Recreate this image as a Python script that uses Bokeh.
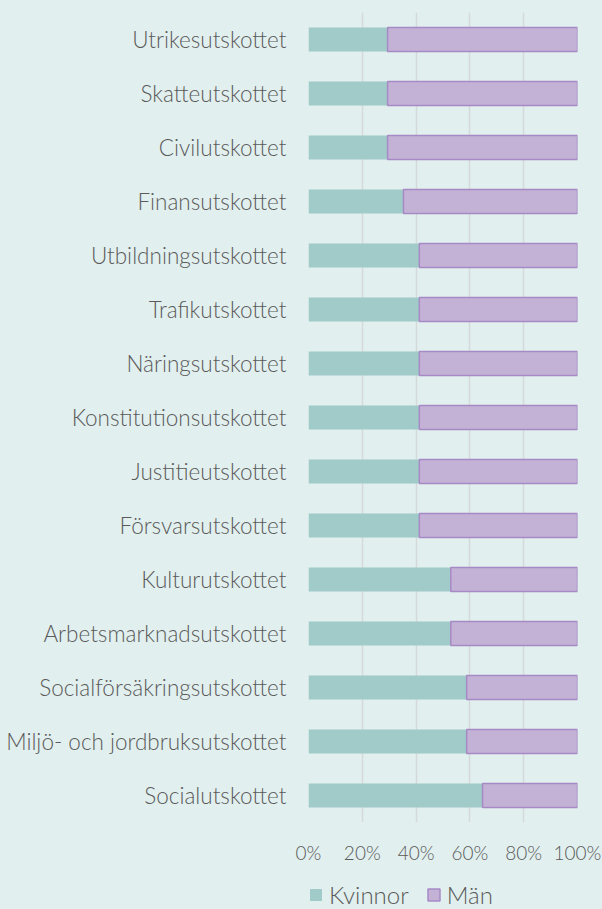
from bokeh.plotting import figure
from bokeh.layouts import column
from bokeh.models import FactorRange, FixedTicker, PrintfTickFormatter, Legend, LegendItem
from bokeh.embed import file_html
from bokeh.resources import INLINE

committees = [
    "Utrikesutskottet", "Skatteutskottet", "Civilutskottet", "Finansutskottet",
    "Utbildningsutskottet", "Trafikutskottet", "Näringsutskottet",
    "Konstitutionsutskottet", "Justitieutskottet", "Försvarsutskottet",
    "Kulturutskottet", "Arbetsmarknadsutskottet", "Socialförsäkringsutskottet",
    "Miljö- och jordbruksutskottet", "Socialutskottet",
]
kvinnor = [29.4, 29.4, 29.4, 35.3, 41.2, 41.2, 41.2, 41.2, 41.2, 41.2, 52.9, 52.9, 58.8, 58.8, 64.7]
man = [70.6, 70.6, 70.6, 64.7, 58.8, 58.8, 58.8, 58.8, 58.8, 58.8, 47.1, 47.1, 41.2, 41.2, 35.3]
x_ticks = [0, 20, 40, 60, 80, 100]
series_names = ["Kvinnor", "Män"]

BG = "#e1efee"
TEAL = "#a0cbc8"
LAV = "#c4b2d6"
LAV_LINE = "#a68ac6"
TXT = "#5a5a5a"
FONT = "Lato Light"

rights = [k + m for k, m in zip(kvinnor, man)]

# ---- main chart ----
p = figure(
    frame_width=269, frame_height=810,
    y_range=FactorRange(factors=list(reversed(committees))),
    x_range=(0, 100),
    output_backend="svg", toolbar_location=None,
    min_border_left=308, min_border_right=25, min_border_top=12, min_border_bottom=45,
    background_fill_color=BG, border_fill_color=BG, outline_line_color=None,
)

p.hbar(y=committees, left=0, right=kvinnor, height=0.44,
       fill_color=TEAL, line_color=None)
p.hbar(y=committees, left=kvinnor, right=rights, height=0.44,
       fill_color=LAV, line_color=LAV_LINE, line_width=1.5)

p.xgrid.ticker = FixedTicker(ticks=x_ticks)
p.xgrid.grid_line_color = "#d6d9d9"
p.xgrid.grid_line_width = 1.5
p.ygrid.grid_line_color = None

p.xaxis.ticker = FixedTicker(ticks=x_ticks)
p.xaxis.formatter = PrintfTickFormatter(format="%d%%")
p.xaxis.axis_line_color = None
p.xaxis.major_tick_line_color = None
p.xaxis.minor_tick_line_color = None
p.xaxis.major_tick_out = 0
p.xaxis.minor_tick_out = 0
p.xaxis.major_label_text_font = FONT
p.xaxis.major_label_text_font_size = "19px"
p.xaxis.major_label_text_color = TXT
p.xaxis.major_label_standoff = 18

p.yaxis.axis_line_color = None
p.yaxis.major_tick_line_color = None
p.yaxis.minor_tick_line_color = None
p.yaxis.major_tick_out = 0
p.yaxis.minor_tick_out = 0
p.yaxis.major_label_text_font = FONT
p.yaxis.major_label_text_font_size = "22.5px"
p.yaxis.major_label_text_color = TXT
p.yaxis.major_label_standoff = 22

# ---- legend strip (legend swatches come from hidden copies of the series) ----
lp = figure(
    width=602, height=42,
    x_range=(0, 100), y_range=FactorRange(factors=list(reversed(committees))),
    x_axis_type=None, y_axis_type=None,
    output_backend="svg", toolbar_location=None,
    min_border_left=190, min_border_right=0, min_border_top=13, min_border_bottom=0,
    background_fill_color=BG, border_fill_color=BG, outline_line_color=None,
)
lk = lp.hbar(y=committees, left=0, right=kvinnor, height=0.44,
             fill_color=TEAL, line_color=None, visible=False)
lm = lp.hbar(y=committees, left=kvinnor, right=rights, height=0.44,
             fill_color=LAV, line_color=LAV_LINE, line_width=1.5, visible=False)

legend = Legend(
    items=[LegendItem(label=series_names[0], renderers=[lk]),
           LegendItem(label=series_names[1], renderers=[lm])],
    orientation="horizontal", location="top_left",
    background_fill_alpha=0, border_line_color=None,
    inactive_fill_alpha=0,
    label_text_font=FONT, label_text_font_size="24px", label_text_color=TXT,
    glyph_width=15, glyph_height=15, spacing=17, label_standoff=6,
    padding=0, margin=0,
)
lp.add_layout(legend, "center")

layout = column(p, lp, spacing=0, styles={"background-color": BG})

html = file_html(layout, INLINE)
html = html.replace("</head>", "<style>html,body{background:#e1efee;}</style></head>", 1)
open("out.html", "w").write(html)
